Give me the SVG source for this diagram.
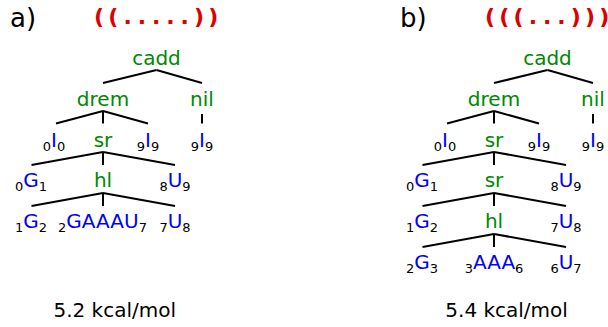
<svg xmlns="http://www.w3.org/2000/svg" width="608" height="327" viewBox="0 0 608 327">
<style>
text{font-family:"DejaVu Sans","Liberation Sans",sans-serif;}
.g{fill:#008800;font-size:20px;text-anchor:middle;}
.n{fill:#000;font-size:20px;text-anchor:middle;}
.m{fill:#0000ff;font-size:20px;}
.s{font-size:13px;fill:#000;}
.lab{font-size:26px;fill:#000;}
.br{font-size:22px;font-weight:bold;fill:#dd0000;text-anchor:middle;}
.en{font-size:20px;fill:#000;text-anchor:middle;}
.c line{stroke:#000;stroke-width:2;stroke-linecap:butt;}
</style>
<text class="lab" x="10" y="27">a)</text>
<text class="br" x="99 113.3 127.6 141.9 156.2 170.5 184.8 199.1 213.4" y="24">((.....))</text>
<text class="lab" x="400" y="27">b)</text>
<text class="br" x="490 504.3 518.6 532.9 547.2 561.5 575.8 590.1 604.4" y="24">(((...)))</text>

<!-- panel a -->
<g id="panel-a">
<g class="c" id="connectors-a">
<line x1="156.5" y1="70" x2="103" y2="83"/>
<line x1="156.5" y1="70" x2="202" y2="83"/>
<line x1="103" y1="111" x2="56" y2="123.5"/>
<line x1="103" y1="111" x2="103" y2="123.5"/>
<line x1="103" y1="111" x2="148" y2="123.5"/>
<line x1="202" y1="114" x2="202" y2="123.5"/>
<line x1="103" y1="152" x2="31.5" y2="165"/>
<line x1="103" y1="152" x2="103" y2="165"/>
<line x1="103" y1="152" x2="175" y2="165"/>
<line x1="103" y1="193" x2="31.5" y2="206"/>
<line x1="103" y1="193" x2="103" y2="206"/>
<line x1="103" y1="193" x2="175" y2="206"/>
</g>
<g id="a-cadd"><text class="g" x="156.5" y="65">cadd</text></g>
<g id="a-drem"><text class="g" x="103" y="105.8">drem</text></g>
<g id="a-nil"><text class="g" x="202" y="105.8">nil</text></g>
<g id="a-I0"><text class="n" x="54" y="146.6"><tspan class="s" dy="4">0</tspan><tspan class="m" dy="-4">I</tspan><tspan class="s" dy="4">0</tspan></text></g>
<g id="a-sr"><text class="g" x="103" y="146.6">sr</text></g>
<g id="a-I9"><text class="n" x="148" y="146.6"><tspan class="s" dy="4">9</tspan><tspan class="m" dy="-4">I</tspan><tspan class="s" dy="4">9</tspan></text></g>
<g id="a-I9b"><text class="n" x="202" y="146.6"><tspan class="s" dy="4">9</tspan><tspan class="m" dy="-4">I</tspan><tspan class="s" dy="4">9</tspan></text></g>
<g id="a-G1"><text class="n" x="31" y="187.4"><tspan class="s" dy="4">0</tspan><tspan class="m" dy="-4">G</tspan><tspan class="s" dy="4">1</tspan></text></g>
<g id="a-hl"><text class="g" x="103" y="187.4">hl</text></g>
<g id="a-U9"><text class="n" x="175" y="187.4"><tspan class="s" dy="4">8</tspan><tspan class="m" dy="-4">U</tspan><tspan class="s" dy="4">9</tspan></text></g>
<g id="a-G2"><text class="n" x="31" y="228.2"><tspan class="s" dy="4">1</tspan><tspan class="m" dy="-4">G</tspan><tspan class="s" dy="4">2</tspan></text></g>
<g id="a-loop"><text class="n" x="102.5" y="228.2"><tspan class="s" dy="4">2</tspan><tspan class="m" dy="-4">GAAAU</tspan><tspan class="s" dy="4">7</tspan></text></g>
<g id="a-U8"><text class="n" x="175" y="228.2"><tspan class="s" dy="4">7</tspan><tspan class="m" dy="-4">U</tspan><tspan class="s" dy="4">8</tspan></text></g>
</g>
<text class="en" x="114.7" y="316.7">5.2 kcal/mol</text>

<!-- panel b -->
<g id="panel-b" transform="translate(391,0)">
<g class="c" id="connectors-b">
<line x1="156.5" y1="70" x2="103" y2="83"/>
<line x1="156.5" y1="70" x2="202" y2="83"/>
<line x1="103" y1="111" x2="56" y2="123.5"/>
<line x1="103" y1="111" x2="103" y2="123.5"/>
<line x1="103" y1="111" x2="148" y2="123.5"/>
<line x1="202" y1="114" x2="202" y2="123.5"/>
<line x1="103" y1="152" x2="31.5" y2="165"/>
<line x1="103" y1="152" x2="103" y2="165"/>
<line x1="103" y1="152" x2="175" y2="165"/>
<line x1="103" y1="193" x2="31.5" y2="206"/>
<line x1="103" y1="193" x2="103" y2="206"/>
<line x1="103" y1="193" x2="175" y2="206"/>
<line x1="103" y1="234" x2="31.5" y2="247"/>
<line x1="103" y1="234" x2="103" y2="247"/>
<line x1="103" y1="234" x2="175" y2="247"/>
</g>
<g id="b-cadd"><text class="g" x="156.5" y="65">cadd</text></g>
<g id="b-drem"><text class="g" x="103" y="105.8">drem</text></g>
<g id="b-nil"><text class="g" x="202" y="105.8">nil</text></g>
<g id="b-I0"><text class="n" x="54" y="146.6"><tspan class="s" dy="4">0</tspan><tspan class="m" dy="-4">I</tspan><tspan class="s" dy="4">0</tspan></text></g>
<g id="b-sr1"><text class="g" x="103" y="146.6">sr</text></g>
<g id="b-I9"><text class="n" x="148" y="146.6"><tspan class="s" dy="4">9</tspan><tspan class="m" dy="-4">I</tspan><tspan class="s" dy="4">9</tspan></text></g>
<g id="b-I9b"><text class="n" x="202" y="146.6"><tspan class="s" dy="4">9</tspan><tspan class="m" dy="-4">I</tspan><tspan class="s" dy="4">9</tspan></text></g>
<g id="b-G1"><text class="n" x="31" y="187.4"><tspan class="s" dy="4">0</tspan><tspan class="m" dy="-4">G</tspan><tspan class="s" dy="4">1</tspan></text></g>
<g id="b-sr2"><text class="g" x="103" y="187.4">sr</text></g>
<g id="b-U9"><text class="n" x="175" y="187.4"><tspan class="s" dy="4">8</tspan><tspan class="m" dy="-4">U</tspan><tspan class="s" dy="4">9</tspan></text></g>
<g id="b-G2"><text class="n" x="31" y="228.2"><tspan class="s" dy="4">1</tspan><tspan class="m" dy="-4">G</tspan><tspan class="s" dy="4">2</tspan></text></g>
<g id="b-hl"><text class="g" x="103" y="228.2">hl</text></g>
<g id="b-U8"><text class="n" x="175" y="228.2"><tspan class="s" dy="4">7</tspan><tspan class="m" dy="-4">U</tspan><tspan class="s" dy="4">8</tspan></text></g>
<g id="b-G3"><text class="n" x="31" y="269"><tspan class="s" dy="4">2</tspan><tspan class="m" dy="-4">G</tspan><tspan class="s" dy="4">3</tspan></text></g>
<g id="b-loop"><text class="n" x="103" y="269"><tspan class="s" dy="4">3</tspan><tspan class="m" dy="-4">AAA</tspan><tspan class="s" dy="4">6</tspan></text></g>
<g id="b-U7"><text class="n" x="175" y="269"><tspan class="s" dy="4">6</tspan><tspan class="m" dy="-4">U</tspan><tspan class="s" dy="4">7</tspan></text></g>
</g>
<text class="en" x="506.6" y="316.7">5.4 kcal/mol</text>
</svg>
